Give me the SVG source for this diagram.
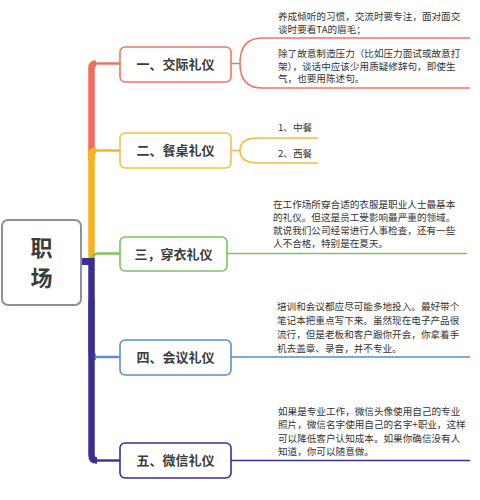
<svg xmlns="http://www.w3.org/2000/svg" width="480" height="500" viewBox="0 0 480 500">
<style>
.lbl{font-family:"Noto Sans CJK SC","Noto Sans",sans-serif;font-size:13px;font-weight:bold;fill:#3b3b3b;text-anchor:middle}
.leaf{font-family:"Noto Sans CJK SC","Noto Sans",sans-serif;font-size:9.6px;fill:#333}
.box{fill:#fff;stroke-width:1.6}
.thin{fill:none;stroke-width:2.4}
.trunk{fill:none;stroke-width:6.5}
.sub{fill:none;stroke-width:1.6}
</style>
<rect width="480" height="500" fill="#fff"/>
<g id="connectors">
  <!-- trunk -->
  <path class="trunk" stroke="#f26b5b" d="M91.5,160 V68 Q91.5,63.5 96,63.5"/>
  <line class="thin" stroke="#f26b5b" x1="95" y1="63.5" x2="120" y2="63.5"/>
  <path class="trunk" stroke="#f9b31c" d="M91.5,259 V155 Q91.5,150.5 96,150.5"/>
  <line class="thin" stroke="#f9b31c" x1="95" y1="150.5" x2="120" y2="150.5"/>
  <path class="thin" stroke="#7cc35b" d="M92,259 Q93,253.5 98,253.5 H120"/>
  <path class="trunk" stroke="#5b8fd4" d="M91.5,300 V352 Q91.5,357 96,357"/>
  <line class="thin" stroke="#5b8fd4" x1="95" y1="357" x2="120" y2="357"/>
  <path class="trunk" stroke="#3c2e91" d="M91.5,258 V455 Q91.5,460.5 97,460.5"/>
  <line class="thin" stroke="#3c2e91" x1="96" y1="460.5" x2="120" y2="460.5"/>
  <rect x="81" y="258" width="11" height="7" fill="#3c2e91"/>
  <!-- right side -->
  <path class="sub" stroke="#f07565" d="M231,63.5 H240 M240,63.5 C240,47 247,38 262,38 H470 M240,63.5 C240,80 247,88 262,88 H470"/>
  <path class="sub" stroke="#f5bd3c" d="M231,150.5 H240 M240,150.5 C240,142 246,138 258,138 H318 M240,150.5 C240,159 246,163 258,163 H318"/>
  <line class="sub" stroke="#82c064" x1="227" y1="253.5" x2="467" y2="253.5"/>
  <line class="sub" stroke="#5b8bd0" x1="231" y1="357" x2="470" y2="357"/>
  <line class="sub" stroke="#3c2e91" x1="231" y1="460.5" x2="470" y2="460.5"/>
</g>
<g id="root">
  <rect x="2" y="220" width="79" height="85" rx="6" fill="#fff" stroke="#8a939e" stroke-width="2"/>
  <text x="41.5" y="256" style="font-family:'Noto Sans CJK SC',sans-serif;font-size:22px;font-weight:bold;fill:#3b3b3b;text-anchor:middle">职</text>
  <text x="41.5" y="285.5" style="font-family:'Noto Sans CJK SC',sans-serif;font-size:22px;font-weight:bold;fill:#3b3b3b;text-anchor:middle">场</text>
</g>
<g id="n1">
  <rect class="box" x="120" y="47" width="111" height="35" rx="5" stroke="#f07565"/>
  <text class="lbl" x="175.5" y="69">一、交际礼仪</text>
</g>
<g id="n2">
  <rect class="box" x="120" y="133" width="111" height="35" rx="5" stroke="#f5c045"/>
  <text class="lbl" x="175.5" y="155">二、餐桌礼仪</text>
</g>
<g id="n3">
  <rect class="box" x="120" y="237" width="107" height="34" rx="5" stroke="#7cc35b"/>
  <text class="lbl" x="173.5" y="258.5">三，穿衣礼仪</text>
</g>
<g id="n4">
  <rect class="box" x="120" y="340" width="111" height="35" rx="5" stroke="#5b8fd4"/>
  <text class="lbl" x="175.5" y="362">四、会议礼仪</text>
</g>
<g id="n5">
  <rect class="box" x="120" y="443" width="111" height="35" rx="5" stroke="#3c2e91"/>
  <text class="lbl" x="175.5" y="465">五、微信礼仪</text>
</g>
<g id="leaf1a">
  <text class="leaf" x="278" y="19.5">养成倾听的习惯，交流时要专注，面对面交</text>
  <text class="leaf" x="278" y="32.5">谈时要看TA的眉毛；</text>
</g>
<g id="leaf1b">
  <text class="leaf" x="278" y="56.5">除了故意制造压力（比如压力面试或故意打</text>
  <text class="leaf" x="278" y="69.5">架），谈话中应该少用质疑修辞句，即使生</text>
  <text class="leaf" x="278" y="82">气，也要用陈述句。</text>
</g>
<g id="leaf2a"><text class="leaf" x="278" y="130.7">1、中餐</text></g>
<g id="leaf2b"><text class="leaf" x="278" y="156.7">2、西餐</text></g>
<g id="leaf3">
  <text class="leaf" x="273" y="207.7">在工作场所穿合适的衣服是职业人士最基本</text>
  <text class="leaf" x="273" y="220.7">的礼仪。但这是员工受影响最严重的领域。</text>
  <text class="leaf" x="273" y="233.7">就说我们公司经常进行人事检查，还有一些</text>
  <text class="leaf" x="273" y="246.7">人不合格，特别是在夏天。</text>
</g>
<g id="leaf4">
  <text class="leaf" x="277" y="309.7">培训和会议都应尽可能多地投入。最好带个</text>
  <text class="leaf" x="277" y="323.7">笔记本把重点写下来。虽然现在电子产品很</text>
  <text class="leaf" x="277" y="337.7">流行，但是老板和客户跟你开会，你拿着手</text>
  <text class="leaf" x="277" y="351.7">机去盖章、录音，并不专业。</text>
</g>
<g id="leaf5">
  <text class="leaf" x="278" y="414.7">如果是专业工作，微信头像使用自己的专业</text>
  <text class="leaf" x="278" y="428.2">照片，微信名字使用自己的名字+职业，这样</text>
  <text class="leaf" x="278" y="441.7">可以降低客户认知成本。如果你确信没有人</text>
  <text class="leaf" x="278" y="455.2">知道，你可以随意做。</text>
</g>
</svg>
